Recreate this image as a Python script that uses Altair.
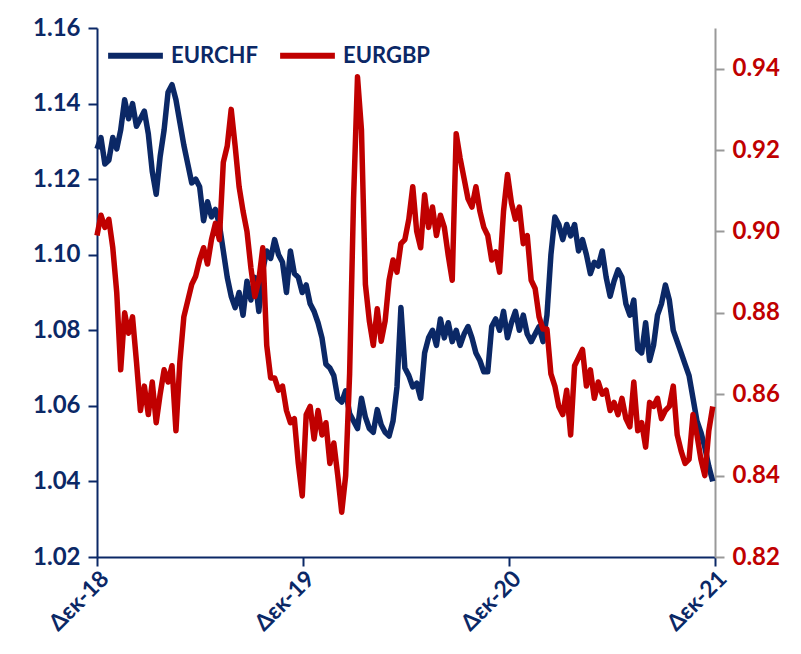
import altair as alt
import pandas as pd

NAVY = "#0B2866"
RED = "#C00000"

eurchf = [
    1.128, 1.131, 1.124, 1.125, 1.131, 1.128, 1.133, 1.141, 1.136, 1.140,
    1.134, 1.136, 1.138, 1.132, 1.122, 1.116, 1.126, 1.133, 1.143, 1.145,
    1.141, 1.135, 1.129, 1.124, 1.119, 1.120, 1.118, 1.109, 1.114, 1.110,
    1.112, 1.108, 1.101, 1.094, 1.089, 1.086, 1.090, 1.084, 1.093, 1.088,
    1.094, 1.085, 1.096, 1.101, 1.099, 1.104, 1.100, 1.098, 1.090, 1.101,
    1.095, 1.094, 1.090, 1.092, 1.087, 1.085, 1.082, 1.078, 1.071, 1.070,
    1.068, 1.062, 1.061, 1.064, 1.058, 1.056, 1.054, 1.062, 1.057, 1.054,
    1.053, 1.059, 1.055, 1.053, 1.052, 1.056, 1.065, 1.086, 1.070, 1.068,
    1.065, 1.066, 1.062, 1.074, 1.078, 1.080, 1.076, 1.083, 1.078, 1.082,
    1.077, 1.080, 1.076, 1.079, 1.081, 1.078, 1.074, 1.072, 1.069, 1.069,
    1.081, 1.083, 1.080, 1.085, 1.078, 1.082, 1.085, 1.080, 1.084, 1.079,
    1.077, 1.079, 1.081, 1.077, 1.084, 1.100, 1.110, 1.108, 1.104, 1.108,
    1.105, 1.108, 1.101, 1.104, 1.100, 1.095, 1.098, 1.097, 1.101, 1.094,
    1.089, 1.093, 1.096, 1.094, 1.087, 1.084, 1.088, 1.075, 1.074, 1.082,
    1.072, 1.076, 1.084, 1.087, 1.092, 1.088, 1.080, 1.077, 1.074, 1.071,
    1.068, 1.062, 1.056, 1.053, 1.049, 1.044, 1.040,
]

eurgbp = [
    0.899, 0.904, 0.901, 0.903, 0.896, 0.885, 0.866, 0.880, 0.875, 0.879,
    0.868, 0.856, 0.862, 0.855, 0.863, 0.853, 0.860, 0.866, 0.863, 0.867,
    0.851, 0.868, 0.879, 0.883, 0.887, 0.889, 0.893, 0.896, 0.892, 0.898,
    0.902, 0.898, 0.917, 0.921, 0.930, 0.921, 0.911, 0.905, 0.900, 0.891,
    0.884, 0.888, 0.896, 0.872, 0.864, 0.864, 0.861, 0.862, 0.856, 0.853,
    0.854, 0.843, 0.835, 0.855, 0.857, 0.849, 0.856, 0.850, 0.853, 0.843,
    0.848, 0.840, 0.831, 0.840, 0.865, 0.908, 0.938, 0.925, 0.887, 0.878,
    0.872, 0.881, 0.873, 0.878, 0.888, 0.893, 0.890, 0.897, 0.898, 0.903,
    0.911, 0.900, 0.896, 0.909, 0.901, 0.906, 0.899, 0.904, 0.901, 0.894,
    0.888, 0.924, 0.918, 0.913, 0.908, 0.906, 0.911, 0.905, 0.901, 0.899,
    0.893, 0.895, 0.890, 0.905, 0.914, 0.907, 0.903, 0.906, 0.897, 0.899,
    0.888, 0.886, 0.879, 0.876, 0.876, 0.865, 0.862, 0.857, 0.855, 0.861,
    0.850, 0.867, 0.869, 0.871, 0.862, 0.866, 0.859, 0.863, 0.860, 0.861,
    0.856, 0.858, 0.855, 0.859, 0.854, 0.852, 0.863, 0.851, 0.853, 0.847,
    0.858, 0.857, 0.859, 0.854, 0.856, 0.857, 0.862, 0.850, 0.846, 0.843,
    0.844, 0.855, 0.850, 0.844, 0.840, 0.851, 0.857,
]

series_names = ["EURCHF", "EURGBP"]
left_ticks = [1.02, 1.04, 1.06, 1.08, 1.10, 1.12, 1.14, 1.16]
right_ticks = [0.82, 0.84, 0.86, 0.88, 0.90, 0.92, 0.94]
tick_years = [2018, 2019, 2020, 2021]

dates = pd.date_range("2018-12-01", periods=len(eurchf), freq="7D")
df = pd.concat([
    pd.DataFrame({"date": dates, "value": eurchf, "series": "EURCHF"}),
    pd.DataFrame({"date": dates, "value": eurgbp, "series": "EURGBP"}),
])

FONT = "Lato"

x_enc = alt.X(
    "date:T",
    title=None,
    scale=alt.Scale(domain=[alt.DateTime(year=2018, month=12, date=1),
                            alt.DateTime(year=2021, month=12, date=1)], nice=False),
    axis=alt.Axis(
        values=[alt.DateTime(year=y, month=12, date=1) for y in tick_years],
        labelExpr="'Δεκ-' + timeFormat(datum.value, '%y')",
        labelAngle=-45, labelAlign="right", labelBaseline="top",
        labelFont=FONT, labelFontSize=23, labelFontWeight="bold", labelColor=NAVY,
        labelPadding=1, labelOverlap=False, labelFlush=False,
        domainColor=NAVY, domainWidth=2, tickColor=NAVY, tickWidth=2, tickSize=9,
        grid=False,
    ),
)

color_enc = alt.Color(
    "series:N",
    scale=alt.Scale(domain=series_names, range=[NAVY, RED]),
    legend=alt.Legend(
        title=None, orient="none", legendX=8, legendY=-3, direction="horizontal",
        symbolType="stroke", symbolStrokeWidth=6, symbolSize=3000,
        labelFont=FONT, labelFontSize=22, labelFontWeight="bold", labelColor=NAVY,
        columnPadding=10, labelOffset=5,
    ),
)

chf = alt.Chart(df).transform_filter(alt.datum.series == "EURCHF").mark_line(
    strokeWidth=5.5, strokeJoin="round"
).encode(
    x=x_enc,
    y=alt.Y(
        "value:Q", title=None,
        scale=alt.Scale(domain=[1.02, 1.16], nice=False, zero=False),
        axis=alt.Axis(
            orient="left", values=left_ticks, format=".2f",
            labelFont=FONT, labelFontSize=24, labelFontWeight="bold", labelColor=NAVY,
            labelPadding=8, domainColor=NAVY, domainWidth=2, tickColor=NAVY,
            tickWidth=2, tickSize=9, grid=False,
        ),
    ),
    color=color_enc,
)

gbp = alt.Chart(df).transform_filter(alt.datum.series == "EURGBP").mark_line(
    strokeWidth=5.5, strokeJoin="round"
).encode(
    x=x_enc,
    y=alt.Y(
        "value:Q", title=None,
        scale=alt.Scale(domain=[0.82, 0.95], nice=False, zero=False),
        axis=alt.Axis(
            orient="right", values=right_ticks, format=".2f",
            labelFont=FONT, labelFontSize=24, labelFontWeight="bold", labelColor=RED,
            labelPadding=8, domainColor="#999999", domainWidth=2, tickColor="#999999",
            tickWidth=2, tickSize=9, grid=False,
        ),
    ),
    color=color_enc,
)

chart = alt.layer(chf, gbp).resolve_scale(y="independent").properties(
    width=618, height=529,
    autosize=alt.AutoSizeParams(type="none"),
    padding={"left": 89, "top": 20, "right": 70, "bottom": 89},
    background="white",
).configure_view(stroke=None)

chart.save("out.html", embed_options={"renderer": "svg", "actions": False})
